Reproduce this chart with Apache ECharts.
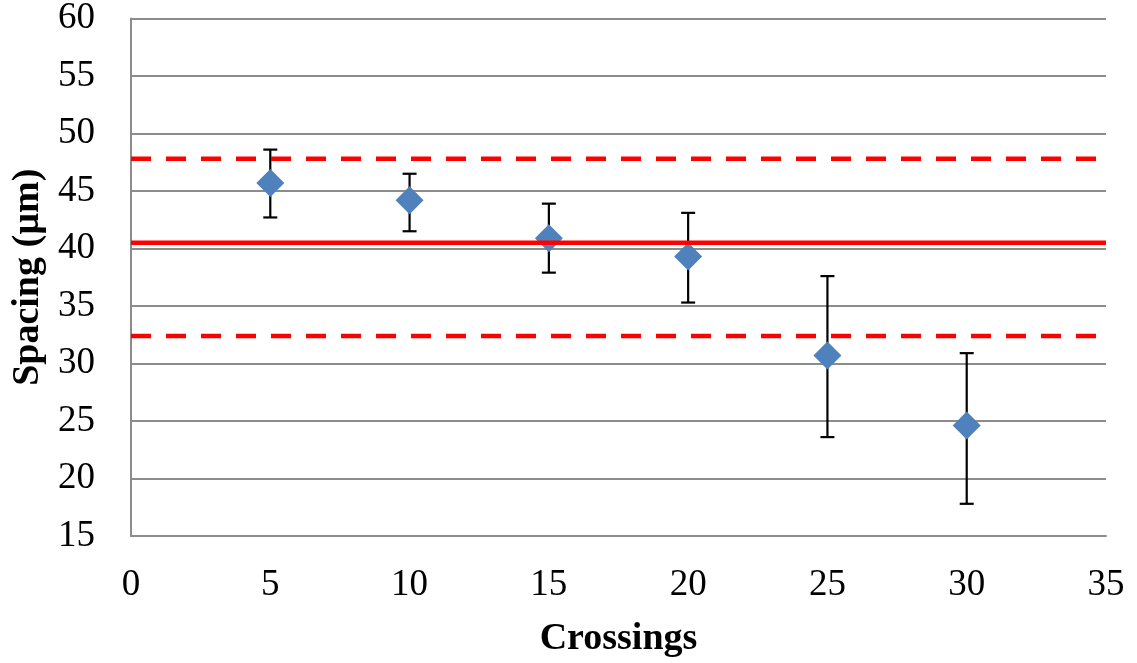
<!DOCTYPE html>
<html>
<head>
<meta charset="utf-8">
<script src="https://cdn.jsdelivr.net/npm/echarts@6/dist/echarts.min.js"></script>
<style>
  html, body { margin: 0; padding: 0; background: #ffffff; }
  #chart { width: 1137px; height: 663px; }
</style>
</head>
<body>
<div id="chart"></div>
<script>
// Mean spacing per number of crossings, with error-bar extents
const crossings = [5, 10, 15, 20, 25, 30];
const spacingMean = [45.7, 44.2, 40.9, 39.3, 30.7, 24.6];
const spacingLow  = [42.7, 41.5, 37.9, 35.3, 23.6, 17.8];
const spacingHigh = [48.6, 46.5, 43.9, 43.1, 37.6, 30.9];

// Reference levels: overall mean and its upper / lower bounds
const refMean = 40.5;
const refUpper = 47.8;
const refLower = 32.4;

const xTicks = { min: 0, max: 35, interval: 5 };
const yTicks = { min: 15, max: 60, interval: 5 };

const fontFamily = '"Liberation Serif", "Times New Roman", serif';
const gray = '#8c8c8c';

const points = crossings.map((x, i) => [x, spacingMean[i]]);
const bars = crossings.map((x, i) => [x, spacingLow[i], spacingHigh[i]]);

const chart = echarts.init(document.getElementById('chart'), null, { renderer: 'canvas' });

chart.setOption({
  animation: false,
  backgroundColor: '#ffffff',
  grid: { left: 131, right: 31, top: 18, bottom: 125, containLabel: false },
  xAxis: {
    type: 'value',
    min: xTicks.min, max: xTicks.max, interval: xTicks.interval,
    name: 'Crossings',
    nameLocation: 'middle',
    nameGap: 84,
    nameTextStyle: { fontFamily, fontSize: 38, fontWeight: 'bold', color: '#000' },
    axisLine: { show: true, lineStyle: { color: gray, width: 2 } },
    axisTick: { show: false },
    splitLine: { show: false },
    axisLabel: { fontFamily, fontSize: 37, color: '#000', margin: 31 }
  },
  yAxis: {
    type: 'value',
    min: yTicks.min, max: yTicks.max, interval: yTicks.interval,
    name: 'Spacing (µm)',
    nameLocation: 'middle',
    nameGap: 84,
    nameTextStyle: { fontFamily, fontSize: 38, fontWeight: 'bold', color: '#000' },
    axisLine: { show: true, lineStyle: { color: gray, width: 2 } },
    axisTick: { show: false },
    splitLine: { show: true, lineStyle: { color: gray, width: 2 } },
    axisLabel: { fontFamily, fontSize: 37, color: '#000', margin: 36 }
  },
  series: [
    {
      type: 'custom',
      name: 'error',
      z: 3,
      renderItem: function (params, api) {
        const x = api.value(0);
        const lo = api.coord([x, api.value(1)]);
        const hi = api.coord([x, api.value(2)]);
        const half = 7;
        const style = { stroke: '#000', lineWidth: 2.2 };
        return {
          type: 'group',
          children: [
            { type: 'line', shape: { x1: lo[0], y1: lo[1], x2: hi[0], y2: hi[1] }, style },
            { type: 'line', shape: { x1: hi[0] - half, y1: hi[1], x2: hi[0] + half, y2: hi[1] }, style },
            { type: 'line', shape: { x1: lo[0] - half, y1: lo[1], x2: lo[0] + half, y2: lo[1] }, style }
          ]
        };
      },
      encode: { x: 0, y: [1, 2] },
      data: bars
    },
    {
      type: 'scatter',
      name: 'spacing',
      z: 4,
      symbol: 'diamond',
      symbolSize: [28, 28],
      itemStyle: { color: '#4f81bd', opacity: 1 },
      data: points
    },
    {
      type: 'line',
      name: 'mean',
      z: 5,
      symbol: 'none',
      silent: true,
      lineStyle: { color: '#ff0000', width: 4.5 },
      data: [[xTicks.min, refMean], [xTicks.max, refMean]]
    },
    {
      type: 'line',
      name: 'upper',
      z: 5,
      symbol: 'none',
      silent: true,
      lineStyle: { color: '#ff0000', width: 4.5, type: [20, 15] },
      data: [[xTicks.min, refUpper], [xTicks.max, refUpper]]
    },
    {
      type: 'line',
      name: 'lower',
      z: 5,
      symbol: 'none',
      silent: true,
      lineStyle: { color: '#ff0000', width: 4.5, type: [20, 15] },
      data: [[xTicks.min, refLower], [xTicks.max, refLower]]
    }
  ]
});
</script>
</body>
</html>
